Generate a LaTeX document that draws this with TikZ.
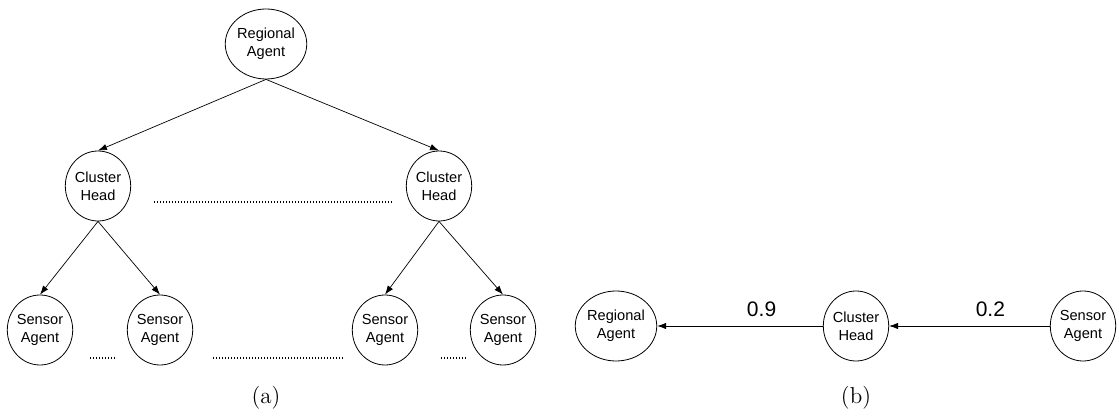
\documentclass[tikz,border=0pt]{standalone}
\usepackage{fontspec}
\newfontfamily\arialfont{Liberation Sans}
\usepackage{tikz}
\usetikzlibrary{shapes.geometric,arrows.meta}

\begin{document}
\begin{tikzpicture}[x=0.5pt,y=-0.5pt,
    agent/.style={draw,ellipse,line width=0.4pt,minimum width=32pt,minimum height=35pt,inner sep=0pt,
        align=center,font=\arialfont\fontsize{7.3}{9}\selectfont},
    link/.style={-{Latex[length=4.5pt,width=3.2pt]},line width=0.35pt},
    dots/.style={line width=0.6pt,dash pattern=on 0.5pt off 1pt},
    weight/.style={font=\arialfont\fontsize{10.5}{12}\selectfont,above=1pt,pos=0.37}]
    \useasboundingbox (0,0) rectangle (1119,416);

    % (a) hierarchy
    \node[agent] (ra) at (266,44) {Regional\\Agent};
    \node[agent] (chl) at (98,186) {Cluster\\Head};
    \node[agent] (chr) at (439,186) {Cluster\\Head};
    \node[agent] (sa1) at (40,330) {Sensor\\Agent};
    \node[agent] (sa2) at (160,330) {Sensor\\Agent};
    \node[agent] (sa3) at (385,330) {Sensor\\Agent};
    \node[agent] (sa4) at (503,330) {Sensor\\Agent};

    \draw[link] (ra.south) -- (chl.north);
    \draw[link] (ra.south) -- (chr.north);
    \draw[link] (chl.south) -- (sa1.north);
    \draw[link] (chl.south) -- (sa2.north);
    \draw[link] (chr.south) -- (sa3.north);
    \draw[link] (chr.south) -- (sa4.north);

    % dots between nodes
    \draw[dots] (154,202) -- (393,202);
    \draw[dots] (90,358) -- (117,358);
    \draw[dots] (213,358) -- (345,358);
    \draw[dots] (441,358) -- (468,358);

    % (b) chain
    \node[agent] (rb) at (616,326) {Regional\\Agent};
    \node[agent] (cb) at (856,326) {Cluster\\Head};
    \node[agent] (sb) at (1083,326) {Sensor\\Agent};

    \draw[link] (cb) -- node[weight] {0.9} (rb);
    \draw[link] (sb) -- node[weight] {0.2} (cb);

    % captions
    \node[font=\fontsize{11.5}{14}\selectfont] (capa) at (266,398) {(a)};
    \node[font=\fontsize{11.5}{14}\selectfont] (capb) at (856,398) {(b)};
\end{tikzpicture}
\end{document}
